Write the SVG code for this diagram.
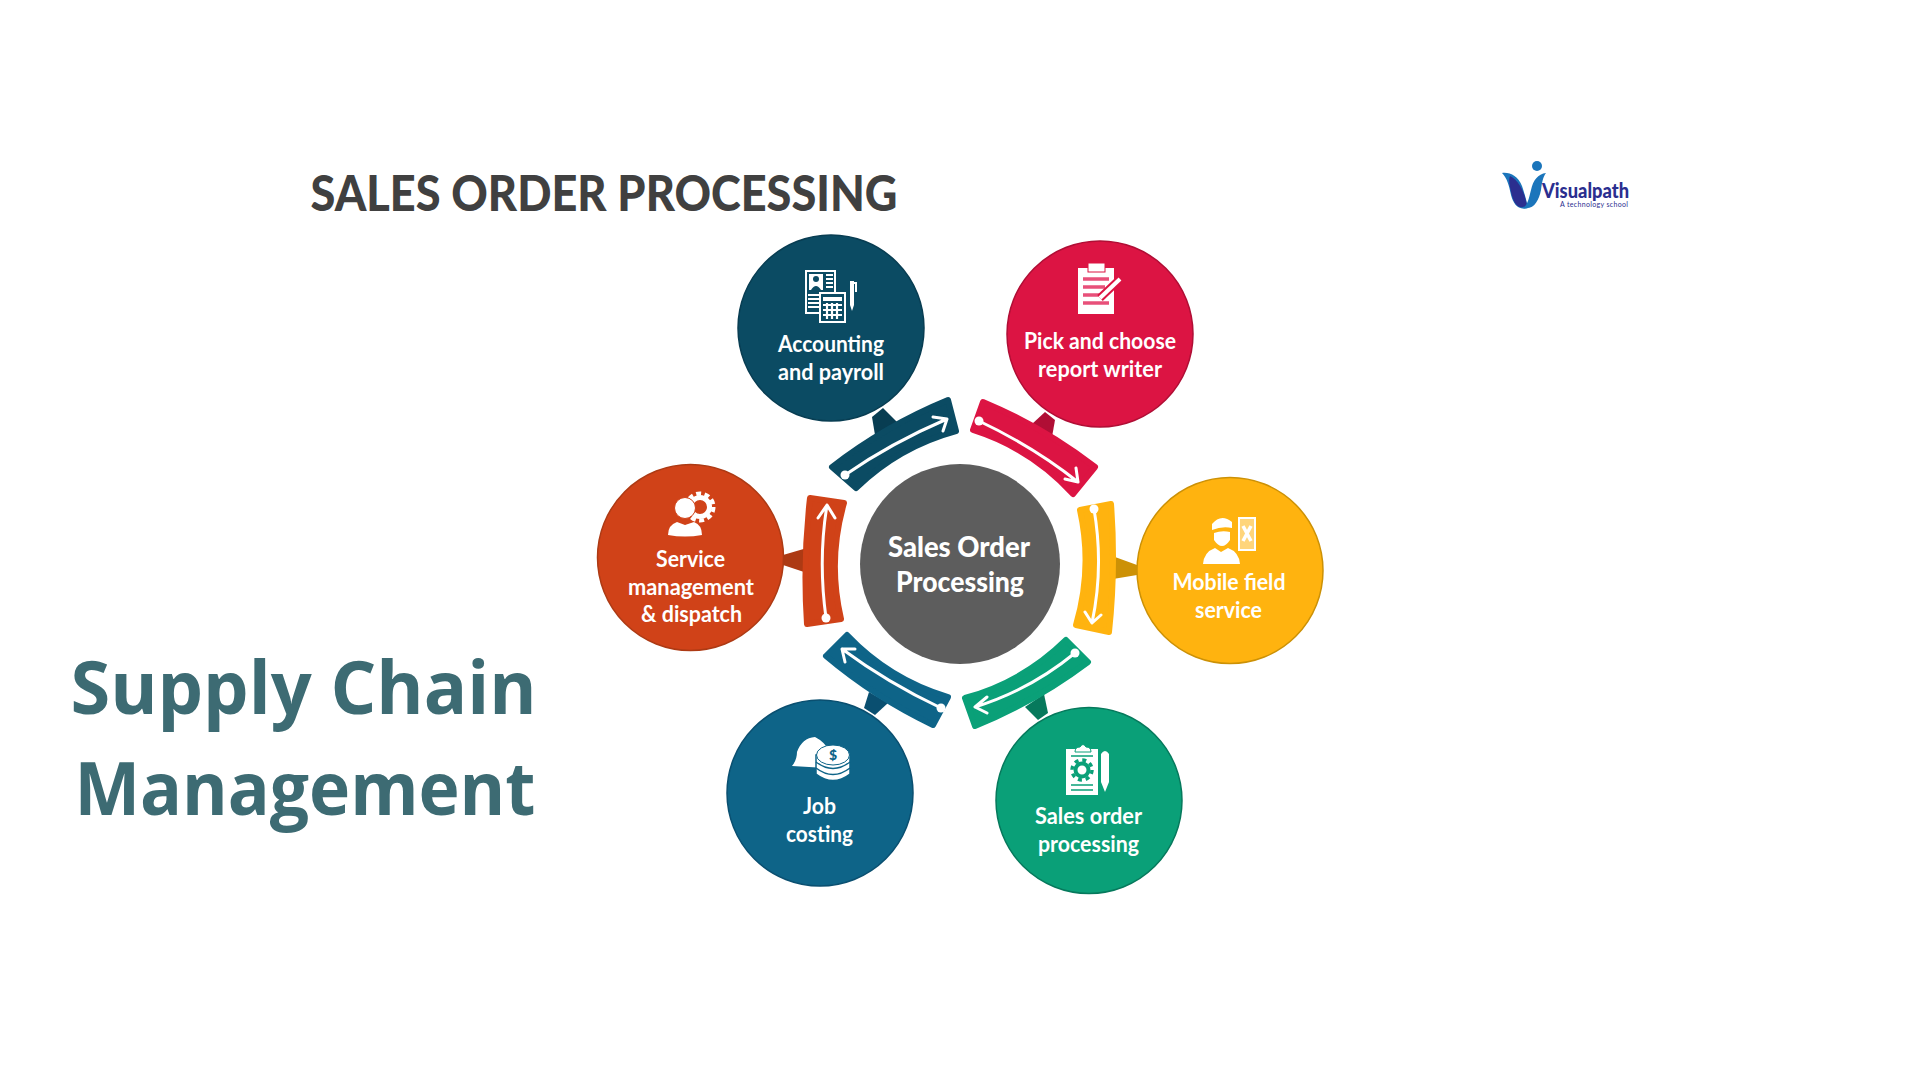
<svg xmlns="http://www.w3.org/2000/svg" width="1920" height="1080" viewBox="0 0 1920 1080">
<style>
text{font-family:"Lato","Liberation Sans",sans-serif;text-anchor:middle}
.l{font-size:23px;font-weight:700;fill:#fff}
.c{font-size:29px;font-weight:900;fill:#fff}
.t{font-size:49px;font-weight:900;fill:#404040}
.m{font-family:"Open Sans","Noto Sans",sans-serif;font-size:73px;font-weight:700;fill:#3d6b73}
.a{fill:none;stroke:#fff;stroke-width:3;stroke-linecap:round;stroke-linejoin:round}
.band{stroke-width:6;stroke-linejoin:round}
.w{fill:#fff}
.wl{fill:none;stroke:#fff;stroke-width:2}
</style>
<rect width="1920" height="1080" fill="#fff"/>
<text id="title" class="t" x="604" y="211" textLength="587" lengthAdjust="spacingAndGlyphs">SALES ORDER PROCESSING</text>
<g id="heading">
<text class="m" x="303.500" y="714" textLength="466" lengthAdjust="spacingAndGlyphs">Supply Chain</text>
<text class="m" x="305" y="815" textLength="461" lengthAdjust="spacingAndGlyphs">Management</text>
</g>
<g id="logo">
<circle cx="1537" cy="166" r="5" fill="#1b75bb"/>
<path d="M1502 173C1510 172 1518 176 1522 186C1525 195 1527 202 1528 208C1518 211 1513 203 1511 195C1509 185 1507 178 1502 173Z" fill="#1b75bb"/>
<path d="M1510 176C1518 180 1524 190 1527 205C1520 210 1515 206 1512 196C1510 188 1508 180 1510 176Z" fill="#2b2e8f"/>
<path d="M1546 173C1538 174 1533 180 1531 190C1529 198 1528 203 1524 208C1534 210 1539 200 1541 190C1542 182 1543 177 1546 173Z" fill="#1b75bb"/>
<text x="1585.500" y="198" font-size="20" font-weight="900" fill="#2b2e8f" textLength="87" lengthAdjust="spacingAndGlyphs">Visualpath</text>
<text x="1594" y="207" font-size="7" font-weight="400" fill="#2b2e8f" textLength="68" lengthAdjust="spacing">A technology school</text>
</g>
<g id="connectors">
<path d="M872 417L883 408L897 422L875 435Z" fill="#083d52"/>
<path d="M1045 412L1055 420L1052 437L1032 424Z" fill="#b00e35"/>
<path d="M783 555L807 548V573L783 565Z" fill="#ad3a14"/>
<path d="M1115 557L1137 565V575L1113 579Z" fill="#cc9106"/>
<path d="M869 692L888 703L875 715L864 708Z" fill="#0a4f70"/>
<path d="M1025 707L1044 694L1048 713L1038 720Z" fill="#06795c"/>
<path class="band" d="M832 467A500 500 0 0 1 948 400L956 431A230 230 0 0 0 856 488Z" fill="#0b4b63" stroke="#0b4b63"/>
<path class="band" d="M983 402A500 500 0 0 1 1095 467L1073 494A230 230 0 0 0 973 430Z" fill="#dc1443" stroke="#dc1443"/>
<path class="band" d="M1111 504A700 700 0 0 1 1109 632L1076 625A230 230 0 0 0 1080 510Z" fill="#ffb30f" stroke="#ffb30f"/>
<path class="band" d="M1088 662A500 500 0 0 1 975 726L965 698A230 230 0 0 0 1066 640Z" fill="#0aa078" stroke="#0aa078"/>
<path class="band" d="M933 725A500 500 0 0 1 826 656L847 635A230 230 0 0 0 948 697Z" fill="#0e6488" stroke="#0e6488"/>
<path class="band" d="M807 624A700 700 0 0 1 810 498L844 503A230 230 0 0 0 841 619Z" fill="#d04218" stroke="#d04218"/>
<g class="a">
<path d="M845 475Q891 443 947 419M933 417L947 419L943 431"/>
<path d="M979 421Q1034 447 1078 482M1076 468L1078 482L1065 479"/>
<path d="M1094 509Q1104 567 1092 623M1085 612L1092 623L1101 615"/>
<path d="M1075 653Q1030 690 975 707M987 697L975 707L987 713"/>
<path d="M941 708Q888 683 842 649M855 649L842 649L845 662"/>
<path d="M826 618Q818 560 827 505M818 518L827 505L835 518"/>
</g>
<g fill="#fff">
<circle cx="845" cy="475" r="4.500"/><circle cx="979" cy="421" r="4.500"/><circle cx="1094" cy="509" r="4.500"/><circle cx="1075" cy="653" r="4.500"/><circle cx="941" cy="708" r="4.500"/><circle cx="826" cy="618" r="4.500"/>
</g>
</g>
<g id="node-center">
<circle cx="960" cy="564" r="100" fill="#5d5d5d"/>
<text class="c" x="959" y="557" textLength="142" lengthAdjust="spacingAndGlyphs">Sales Order</text>
<text class="c" x="960" y="592" textLength="128" lengthAdjust="spacingAndGlyphs">Processing</text>
</g>
<g id="node-accounting">
<circle cx="831" cy="328" r="93" fill="#0b4b63" stroke="#083d52" stroke-width="1.500"/>
<rect x="806" y="271" width="29" height="42" class="wl"/>
<rect x="809" y="274" width="14" height="16" class="w"/>
<circle cx="816" cy="279" r="3" fill="#0b4b63"/><path d="M811 290Q816 282 821 290Z" fill="#0b4b63"/>
<path d="M826 275H833M826 279H833M826 283H833M826 287H833M808 295H819M808 299H819M808 303H819M808 307H819" stroke="#fff" stroke-width="1.800"/>
<rect x="820" y="293" width="25" height="29" fill="#0b4b63" stroke="#fff" stroke-width="2"/>
<rect x="823" y="297" width="19" height="4" class="w"/>
<path d="M823 305H842M823 310H842M823 315H842M827 303V319M832 303V319M837 303V319" stroke="#fff" stroke-width="2.200" fill="none"/>
<path d="M850 281H854V305L852 311L850 305Z" class="w"/><path d="M854 283H856V292" class="wl" stroke-width="1"/>
<text class="l" x="831" y="352" textLength="106" lengthAdjust="spacingAndGlyphs">Accounting</text>
<text class="l" x="831" y="380" textLength="106" lengthAdjust="spacingAndGlyphs">and payroll</text>
</g>
<g id="node-report">
<circle cx="1100" cy="334" r="93" fill="#dc1443" stroke="#b00e35" stroke-width="1.500"/>
<rect x="1078" y="268" width="36" height="46" class="w"/>
<rect x="1088" y="263" width="17" height="9" class="w" stroke="#dc1443" stroke-width="1"/>
<path d="M1083 279H1109M1083 287H1105M1083 295H1100M1083 303H1109" stroke="#e8507a" stroke-width="3.500"/>
<path d="M1100 298L1120 279" stroke="#dc1443" stroke-width="8"/><path d="M1100 298L1120 279" stroke="#fff" stroke-width="4"/>
<text class="l" x="1100" y="349" textLength="152" lengthAdjust="spacingAndGlyphs">Pick and choose</text>
<text class="l" x="1100" y="377" textLength="124" lengthAdjust="spacingAndGlyphs">report writer</text>
</g>
<g id="node-mobile">
<circle cx="1230" cy="570.500" r="93" fill="#ffb30f" stroke="#cc9106" stroke-width="1.500"/>
<path d="M1212 530V524Q1221 513 1232 522V528Q1222 526 1212 530Z" class="w"/>
<path d="M1214 533Q1222 530 1230 532V540Q1222 552 1214 540Z" class="w"/>
<path d="M1203 564Q1204 552 1215 548L1221 552L1228 548Q1239 552 1240 564Z" class="w"/>
<rect x="1239" y="518" width="16" height="32" fill="#fff" fill-opacity=".45" stroke="#fff" stroke-width="2"/>
<path d="M1243 526L1251 541M1251 526L1243 541" stroke="#fff" stroke-width="3.500"/>
<text class="l" x="1229" y="590" textLength="113" lengthAdjust="spacingAndGlyphs">Mobile field</text>
<text class="l" x="1228.500" y="618" textLength="67" lengthAdjust="spacingAndGlyphs">service</text>
</g>
<g id="node-sales">
<circle cx="1089" cy="800.500" r="93" fill="#0aa078" stroke="#06795c" stroke-width="1.500"/>
<rect x="1066" y="749" width="32" height="46" class="w"/>
<path d="M1075 752Q1075 747 1080 747Q1083 742 1086 747Q1091 747 1091 752Z" class="w" stroke="#0aa078" stroke-width="1"/>
<circle cx="1082" cy="770" r="6.500" fill="none" stroke="#0aa078" stroke-width="4"/>
<circle cx="1082" cy="770" r="10" fill="none" stroke="#0aa078" stroke-width="3.500" stroke-dasharray="4 3.850"/>
<path d="M1071 785H1093M1071 790H1093M1071 756H1093" stroke="#0aa078" stroke-width="1.500"/>
<path d="M1101 754Q1105 748 1109 754V782L1105 792L1101 782Z" class="w"/>
<text class="l" x="1088.500" y="824" textLength="107" lengthAdjust="spacingAndGlyphs">Sales order</text>
<text class="l" x="1088.500" y="852" textLength="101" lengthAdjust="spacingAndGlyphs">processing</text>
</g>
<g id="node-job">
<circle cx="820" cy="793" r="93" fill="#0e6488" stroke="#0a4f70" stroke-width="1.500"/>
<path d="M792 766Q797 760 797 752Q802 738 815 737Q825 742 830 752L826 768Z" class="w"/>
<path d="M816 755V774Q833 787 850 774V755Z" class="w" stroke="#0e6488" stroke-width="1.500"/>
<path d="M816 762Q833 775 850 762M816 768Q833 781 850 768" fill="none" stroke="#0e6488" stroke-width="1.500"/>
<ellipse cx="833" cy="755" rx="16.500" ry="10" fill="#fff" stroke="#0e6488" stroke-width="1"/>
<text x="833" y="760" font-size="14" font-weight="900" fill="#0e6488">$</text>
<text class="l" x="819.500" y="814" textLength="33" lengthAdjust="spacingAndGlyphs">Job</text>
<text class="l" x="819.500" y="842" textLength="67" lengthAdjust="spacingAndGlyphs">costing</text>
</g>
<g id="node-service">
<circle cx="690.500" cy="557.500" r="93" fill="#d04218" stroke="#ad3a14" stroke-width="1.500"/>
<circle cx="700" cy="507" r="9.500" fill="none" stroke="#fff" stroke-width="5"/>
<circle cx="700" cy="507" r="13.500" fill="none" stroke="#fff" stroke-width="4" stroke-dasharray="5 3.480"/>
<circle cx="685" cy="508" r="10.500" class="w" stroke="#d04218" stroke-width="1"/>
<path d="M668 535Q668 525 677 522L685 525L694 522Q702 525 702 535Q685 538 668 535Z" class="w"/>
<text class="l" x="690.500" y="567" textLength="69" lengthAdjust="spacingAndGlyphs">Service</text>
<text class="l" x="691" y="595" textLength="126" lengthAdjust="spacingAndGlyphs">management</text>
<text class="l" x="691.500" y="622" textLength="101" lengthAdjust="spacingAndGlyphs">&amp; dispatch</text>
</g>
</svg>
